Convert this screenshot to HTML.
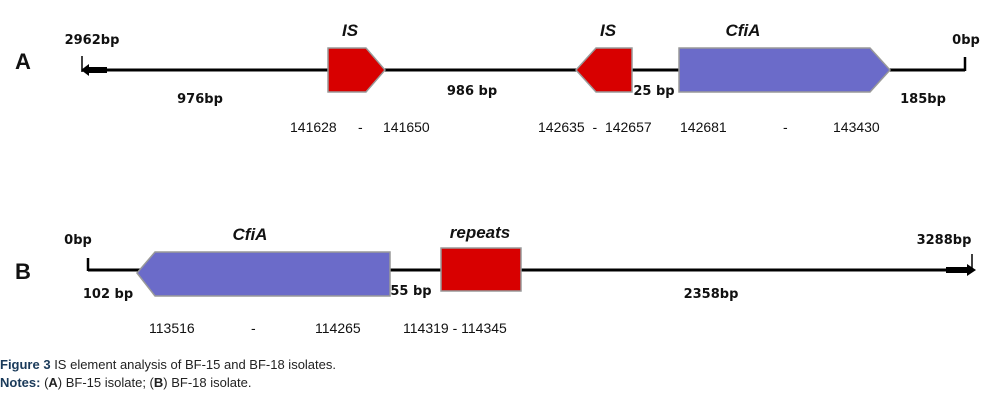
<!DOCTYPE html>
<html><head><meta charset="utf-8"><style>
html,body{margin:0;padding:0;background:#fff;}
svg{display:block;}
.b{font-family:"DejaVu Sans","Liberation Sans",sans-serif;font-weight:bold;font-size:13px;fill:#111;}
.n{font-family:"Liberation Sans",sans-serif;font-size:14px;fill:#111;}
.i{font-family:"Liberation Sans",sans-serif;font-weight:bold;font-style:italic;font-size:17px;fill:#111;}
.L{font-family:"Liberation Sans",sans-serif;font-weight:bold;font-size:22px;fill:#111;}
.c{font-family:"Liberation Sans",sans-serif;font-size:13px;fill:#222;}
</style></head><body>
<svg width="997" height="403" viewBox="0 0 997 403" xmlns="http://www.w3.org/2000/svg">
<rect width="997" height="403" fill="#fff"/>
<!-- A -->
<text class="L" x="15" y="69">A</text>
<line x1="90" y1="70" x2="965" y2="70" stroke="#000" stroke-width="3"/>
<rect x="86" y="67" width="21" height="6" fill="#000"/>
<polygon points="81,70 89,64 89,76" fill="#000"/>
<line x1="82" y1="56" x2="82" y2="72" stroke="#000" stroke-width="1.5"/>
<line x1="965" y1="57" x2="965" y2="71" stroke="#000" stroke-width="2.5"/>
<polygon points="328,48 366,48 385,70 366,92 328,92" fill="#d80000" stroke="#999" stroke-width="1.5"/>
<polygon points="632,48 596,48 576,70 596,92 632,92" fill="#d80000" stroke="#999" stroke-width="1.5"/>
<polygon points="679,48 870,48 890,70 870,92 679,92" fill="#6b6bc9" stroke="#999" stroke-width="1.5"/>
<text class="i" x="350" y="36" text-anchor="middle">IS</text>
<text class="i" x="608" y="36" text-anchor="middle">IS</text>
<text class="i" x="743" y="36" text-anchor="middle">CfiA</text>
<text class="b" x="92" y="44" text-anchor="middle">2962bp</text>
<text class="b" x="966" y="44" text-anchor="middle">0bp</text>
<text class="b" x="200" y="103" text-anchor="middle">976bp</text>
<text class="b" x="472" y="95" text-anchor="middle">986 bp</text>
<text class="b" x="654" y="95" text-anchor="middle">25 bp</text>
<text class="b" x="923" y="103" text-anchor="middle">185bp</text>
<text class="n" x="290" y="132">141628</text>
<text class="n" x="358" y="132">-</text>
<text class="n" x="383" y="132">141650</text>
<text class="n" x="538" y="132">142635&#160; -&#160; 142657</text>
<text class="n" x="680" y="132">142681</text>
<text class="n" x="783" y="132">-</text>
<text class="n" x="833" y="132">143430</text>
<!-- B -->
<text class="L" x="15" y="279">B</text>
<line x1="88" y1="270" x2="965" y2="270" stroke="#000" stroke-width="3"/>
<line x1="88" y1="258" x2="88" y2="271" stroke="#000" stroke-width="2.5"/>
<rect x="946" y="267" width="22" height="6" fill="#000"/>
<polygon points="976,270 967,264 967,276" fill="#000"/>
<line x1="972" y1="254" x2="972" y2="270" stroke="#000" stroke-width="1.5"/>
<polygon points="390,252 155,252 137,273 155,296 390,296" fill="#6b6bc9" stroke="#999" stroke-width="1.5"/>
<rect x="441" y="248" width="80" height="43" fill="#d80000" stroke="#999" stroke-width="1.5"/>
<text class="i" x="250" y="240" text-anchor="middle">CfiA</text>
<text class="i" x="480" y="238" text-anchor="middle">repeats</text>
<text class="b" x="78" y="244" text-anchor="middle">0bp</text>
<text class="b" x="944" y="244" text-anchor="middle">3288bp</text>
<text class="b" x="108" y="298" text-anchor="middle">102 bp</text>
<text class="b" x="411" y="295" text-anchor="middle">55 bp</text>
<text class="b" x="711" y="298" text-anchor="middle">2358bp</text>
<text class="n" x="149" y="333">113516</text>
<text class="n" x="251" y="333">-</text>
<text class="n" x="315" y="333">114265</text>
<text class="n" x="403" y="333">114319 - 114345</text>
<!-- caption -->
<text class="c" x="0" y="369"><tspan font-weight="bold" fill="#1a3a5a">Figure 3</tspan> IS element analysis of BF-15 and BF-18 isolates.</text>
<text class="c" x="0" y="387"><tspan font-weight="bold" fill="#1a3a5a">Notes:</tspan> (<tspan font-weight="bold">A</tspan>) BF-15 isolate; (<tspan font-weight="bold">B</tspan>) BF-18 isolate.</text>
</svg>
</body></html>
